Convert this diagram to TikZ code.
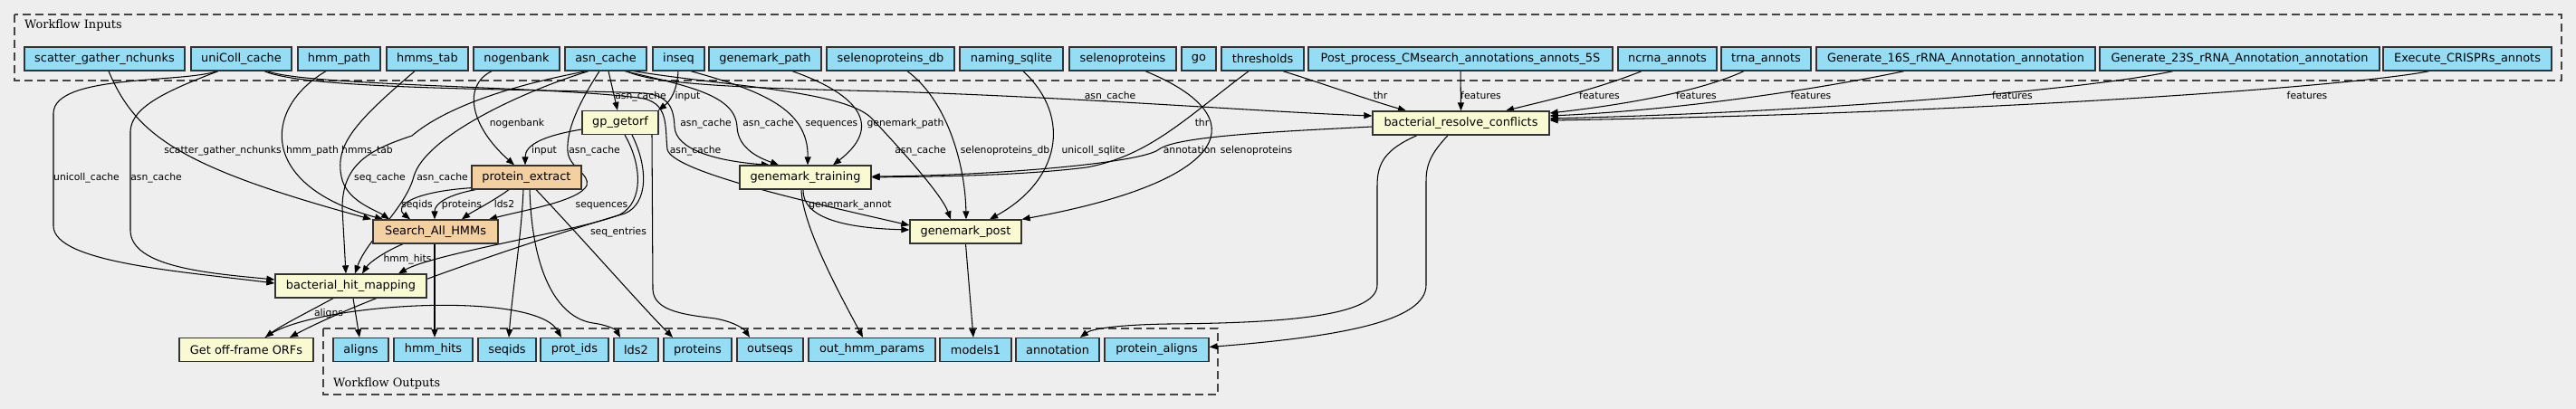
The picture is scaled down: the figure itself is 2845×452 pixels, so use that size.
\documentclass[tikz,border=0pt]{standalone}
\usepackage{fontspec}
\setmainfont{DejaVu Sans}
\newfontfamily\titlefont{DejaVu Serif}
\usetikzlibrary{arrows.meta}
\pgfdeclarelayer{bglayer}
\pgfdeclarelayer{edgelayer}
\pgfsetlayers{bglayer,edgelayer,main}
\definecolor{bgc}{HTML}{EEEEEE}
\definecolor{inblue}{HTML}{94DDF4}
\definecolor{stepyellow}{HTML}{FAFAD2}
\definecolor{steporange}{HTML}{F4CFA0}
\definecolor{nodeborder}{HTML}{333333}
\definecolor{clusborder}{HTML}{444444}
\tikzset{
 base/.style={draw=nodeborder, line width=1.3pt, minimum height=26pt, inner sep=0pt, font=\fontsize{12.9}{15}\selectfont},
 inp/.style={base, fill=inblue},
 stepy/.style={base, fill=stepyellow},
 stepo/.style={base, fill=steporange},
 edge/.style={draw=black, line width=1.05pt, -{Triangle[length=9pt,width=7pt]}},
 elab/.style={font=\fontsize{10.8}{12}\selectfont, inner sep=0pt, anchor=base},
 clus/.style={draw=clusborder, line width=1.3pt, dash pattern=on 9pt off 5pt},
 ctitle/.style={font=\titlefont\fontsize{12.9}{15}\selectfont, inner sep=0pt, anchor=base west},
}
\begin{document}
\begin{tikzpicture}[x=1pt,y=-1pt]
\useasboundingbox (0,0) rectangle (2845,452);
\begin{pgfonlayer}{bglayer}
\fill[bgc] (0,0) rectangle (2845,452);
\draw[clus] (16,16) rectangle (2829,89);
\draw[clus] (357,363) rectangle (1345,436);
\end{pgfonlayer}
\node[ctitle] (tin) at (27,32) {Workflow Inputs};
\node[ctitle] (tout) at (368,427) {Workflow Outputs};
% inputs
\node[inp, minimum width=177pt] (sgn) at (115.5,65) {scatter\_gather\_nchunks};
\node[inp, minimum width=111pt] (ucc) at (266.5,65) {uniColl\_cache};
\node[inp, minimum width=91pt] (hmmp) at (374.5,65) {hmm\_path};
\node[inp, minimum width=90pt] (hmmt) at (472,65) {hmms\_tab};
\node[inp, minimum width=95pt] (nogb) at (570.5,65) {nogenbank};
\node[inp, minimum width=90pt] (asnc) at (669,65) {asn\_cache};
\node[inp, minimum width=57pt] (inseq) at (749.5,65) {inseq};
\node[inp, minimum width=124pt] (gmp) at (845,65) {genemark\_path};
\node[inp, minimum width=141pt] (seldb) at (983.5,65) {selenoproteins\_db};
\node[inp, minimum width=114pt] (nsql) at (1117,65) {naming\_sqlite};
\node[inp, minimum width=118pt] (selp) at (1240,65) {selenoproteins};
\node[inp, minimum width=38pt] (go) at (1324,65) {go};
\node[inp, minimum width=91pt] (thr) at (1394.5,65) {thresholds};
\node[inp, minimum width=336pt] (pp5s) at (1613,65) {Post\_process\_CMsearch\_annotations\_annots\_5S};
\node[inp, minimum width=109pt] (ncrna) at (1841.5,65) {ncrna\_annots};
\node[inp, minimum width=99pt] (trna) at (1950.5,65) {trna\_annots};
\node[inp, minimum width=308pt] (g16) at (2160,65) {Generate\_16S\_rRNA\_Annotation\_annotation};
\node[inp, minimum width=309pt] (g23) at (2473.5,65) {Generate\_23S\_rRNA\_Annotation\_annotation};
\node[inp, minimum width=186pt] (crispr) at (2725,65) {Execute\_CRISPRs\_annots};
% steps
\node[stepy, minimum width=84pt] (gpo) at (685,135.5) {gp\_getorf};
\node[stepo, minimum width=121pt] (pe) at (581.5,196) {protein\_extract};
\node[stepy, minimum width=145pt] (gmt) at (889.5,196) {genemark\_training};
\node[stepy, minimum width=195pt] (brc) at (1613.5,136) {bacterial\_resolve\_conflicts};
\node[stepo, minimum width=138pt] (sah) at (481,256) {Search\_All\_HMMs};
\node[stepy, minimum width=123pt] (gmpo) at (1066.5,256) {genemark\_post};
\node[stepy, minimum width=167pt] (bhm) at (387.5,316) {bacterial\_hit\_mapping};
\node[stepy, minimum width=148pt] (orf) at (272,386.5) {Get off-frame ORFs};
% outputs
\node[inp, minimum width=61pt] (aligns) at (398.5,386.5) {aligns};
\node[inp, minimum width=87pt] (hmmh) at (478.5,386.5) {hmm\_hits};
\node[inp, minimum width=64pt] (seqids) at (560,386.5) {seqids};
\node[inp, minimum width=75pt] (pid) at (634.5,386.5) {prot\_ids};
\node[inp, minimum width=49pt] (lds) at (702.5,386.5) {lds2};
\node[inp, minimum width=75pt] (prot) at (770.5,386.5) {proteins};
\node[inp, minimum width=73pt] (outs) at (850.5,386.5) {outseqs};
\node[inp, minimum width=140pt] (ohp) at (963,386.5) {out\_hmm\_params};
\node[inp, minimum width=79pt] (mod) at (1077.5,386.5) {models1};
\node[inp, minimum width=92pt] (annot) at (1168,386.5) {annotation};
\node[inp, minimum width=115pt] (pa) at (1277.5,386.5) {protein\_aligns};
% edges
\begin{pgfonlayer}{edgelayer}
\draw[edge] ([xshift=4.5pt]sgn.south) .. controls (150,150) and (200,185) .. ([xshift=-71pt]sah.north);
\draw[edge] ([xshift=-26.5pt]ucc.south) .. controls (200,92) and (60,82) .. (59,125) -- (59,250) .. controls (60,290) and (200,300) .. ([yshift=3pt]bhm.west);
\draw[edge] ([xshift=-25.5pt]ucc.south) .. controls (185,100) and (145,118) .. (144,145) -- (144,255) .. controls (145,295) and (230,302) .. ([yshift=7pt]bhm.west);
\draw[edge] ([xshift=-14.5pt]hmmp.south) .. controls (290,120) and (285,205) .. ([xshift=-58pt]sah.north);
\draw[edge] ([xshift=-14pt]hmmt.south) .. controls (392,135) and (370,160) .. (377,195) .. controls (382,222) and (415,232) .. ([xshift=-51pt]sah.north);
\draw[edge] ([xshift=-21pt]asnc.south) .. controls (560,95) and (490,120) .. (455,150) .. controls (410,165) and (378,180) .. (378,230) -- ([xshift=-5.5pt]bhm.north);
\draw[edge] ([xshift=-19pt]asnc.south) .. controls (580,100) and (470,150) .. (457,195) .. controls (448,230) and (405,265) .. ([xshift=4.5pt]bhm.north);
\draw[edge] ([xshift=-7pt]asnc.south) .. controls (645,105) and (625,140) .. (627,167) .. controls (628,185) and (652,192) .. (648,205) .. controls (640,222) and (580,232) .. ([xshift=59pt]sah.north);
\draw[edge] ([xshift=3pt]asnc.south) -- ([xshift=-3pt]gpo.north);
\draw[edge] ([xshift=-0.5pt]inseq.south) .. controls (748,100) and (740,112) .. ([xshift=42pt]gpo.north);
\draw[edge] ([xshift=-27.5pt]nogb.south) .. controls (510,95) and (520,140) .. ([xshift=-13.5pt]pe.north);
\draw[edge] ([yshift=-7.5pt]gpo.west) .. controls (600,150) and (580,160) .. ([xshift=-1.5pt]pe.north);
\draw[edge] ([yshift=2pt]pe.south west) .. controls (455,212) and (435,228) .. ([xshift=-28pt]sah.north);
\draw[edge] ([xshift=5pt]pe.south west) .. controls (495,215) and (480,225) .. ([xshift=-1pt]sah.north);
\draw[edge] ([xshift=-19.5pt]pe.south) .. controls (545,222) and (520,235) .. ([xshift=29pt]sah.north);
\draw[edge] ([xshift=-36pt]sah.south) .. controls (425,278) and (408,290) .. ([xshift=12.5pt]bhm.north);
\draw[edge] ([xshift=5pt]gpo.south) .. controls (708,180) and (712,222) .. (685,237) .. controls (640,255) and (480,280) .. ([xshift=52.5pt]bhm.north);
\draw[edge] ([xshift=13pt]gpo.south) .. controls (716,185) and (716,225) .. (690,236) .. controls (640,250) and (420,320) .. ([xshift=48pt]orf.north);
\draw[edge] ([xshift=-19.5pt]bhm.south) .. controls (340,345) and (310,360) .. ([xshift=21pt]orf.north);
\draw[edge] ([xshift=21pt]orf.north) .. controls (340,335) and (590,320) .. ([xshift=-14.5pt]pid.north);
\draw[edge] ([xshift=2.5pt]bhm.south) -- ([xshift=-1.5pt]aligns.north);
\draw[edge] ([xshift=-1pt]sah.south) -- ([xshift=1.5pt]hmmh.north);
\draw[edge] ([xshift=-3.5pt]pe.south) .. controls (576,260) and (566,320) .. ([xshift=2pt]seqids.north);
\draw[edge] ([xshift=3.5pt]pe.south) .. controls (588,310) and (620,352) .. (655,357) .. controls (670,359) and (680,364) .. ([xshift=-17.5pt]lds.north);
\draw[edge] ([xshift=10.5pt]pe.south) .. controls (640,260) and (710,340) .. ([xshift=-27.5pt]prot.north);
\draw[edge] ([xshift=35pt]gpo.south) -- (721,320) .. controls (722,345) and (760,348) .. (790,352) .. controls (812,356) and (822,364) .. ([xshift=-22.5pt]outs.north);
\draw[edge] ([xshift=-4.5pt]gmt.south) .. controls (886,250) and (930,330) .. ([xshift=-10pt]ohp.north);
\draw[edge] (gmpo.south) -- ([xshift=-2.5pt]mod.north);
\draw[edge] ([xshift=-48.5pt]brc.south) .. controls (1530,165) and (1521,180) .. (1521,205) -- (1521,315) .. controls (1521,352) and (1400,357) .. (1290,358) .. controls (1230,359) and (1205,364) .. ([xshift=25pt]annot.north);
\draw[edge] ([xshift=-14.5pt]brc.south) .. controls (1582,168) and (1575,180) .. (1575,200) -- (1575,315) .. controls (1575,355) and (1480,372) .. ([yshift=3pt]pa.east);
\draw[edge] ([xshift=-2.5pt]gmt.south) .. controls (886,240) and (930,252) .. ([yshift=2pt]gmpo.west);
\draw[edge] ([xshift=28.5pt]ucc.south) .. controls (340,95) and (600,95) .. (705,108) .. controls (740,112) and (734,140) .. (737,165) .. controls (742,190) and (900,225) .. ([yshift=7pt]gmpo.west);
\draw[edge] ([xshift=25.5pt]ucc.south) .. controls (340,100) and (600,98) .. (712,103) .. controls (738,106) and (744,118) .. (745,140) .. controls (746,165) and (790,178) .. ([xshift=-39.5pt]gmt.north);
\draw[edge] ([xshift=21pt]asnc.south) .. controls (760,95) and (812,105) .. (814,140) .. controls (815,165) and (840,175) .. ([xshift=-29.5pt]gmt.north);
\draw[edge] ([xshift=13.5pt]inseq.south) .. controls (840,100) and (893,120) .. ([xshift=2.5pt]gmt.north);
\draw[edge] ([xshift=30pt]gmp.south) .. controls (950,105) and (975,140) .. ([xshift=30.5pt]gmt.north);
\draw[edge] ([xshift=31pt]asnc.south) .. controls (800,95) and (930,100) .. (962,130) .. controls (995,165) and (1040,215) .. ([xshift=-16.5pt]gmpo.north);
\draw[edge] ([xshift=18.5pt]seldb.south) .. controls (1045,110) and (1066,180) .. ([xshift=0.5pt]gmpo.north);
\draw[edge] ([xshift=13pt]nsql.south) .. controls (1185,130) and (1170,200) .. ([xshift=26.5pt]gmpo.north);
\draw[edge] ([xshift=25pt]selp.south) .. controls (1390,130) and (1360,200) .. (gmpo.north east);
\draw[edge] ([xshift=-15.5pt]thr.south) .. controls (1310,130) and (1270,172) .. (1200,185) .. controls (1120,195) and (1020,195) .. (gmt.east);
\draw[edge] ([yshift=-4pt]brc.west) .. controls (1420,145) and (1300,150) .. (1280,165) .. controls (1262,180) and (1100,194) .. ([yshift=1pt]gmt.east);
\draw[edge] ([xshift=22.5pt]thr.south) .. controls (1460,92) and (1510,110) .. ([xshift=-60.5pt]brc.north);
\draw[edge] ([xshift=23pt]asnc.south) .. controls (720,92) and (800,97) .. (980,101) .. controls (1200,108) and (1400,124) .. ([yshift=8pt]brc.west);
\draw[edge] (pp5s.south) -- (brc.north);
\draw[edge] ([xshift=-28.5pt]ncrna.south) .. controls (1760,100) and (1700,113) .. ([xshift=49.5pt]brc.north);
\draw[edge] ([xshift=-24.5pt]trna.south) .. controls (1880,100) and (1800,115) .. ([yshift=11pt]brc.east);
\draw[edge] ([xshift=-57pt]g16.south) .. controls (2000,100) and (1850,122) .. ([yshift=8pt]brc.east);
\draw[edge] ([xshift=-73.5pt]g23.south) .. controls (2300,100) and (2000,124) .. ([yshift=5pt]brc.east);
\draw[edge] ([xshift=-42pt]crispr.south) .. controls (2600,95) and (2200,125) .. ([yshift=3pt]brc.east);
\end{pgfonlayer}
% edge labels
\node[elab] (l1) at (246,169) {scatter\_gather\_nchunks};
\node[elab] (l2) at (95.5,199) {unicoll\_cache};
\node[elab] (l3) at (172.5,199) {asn\_cache};
\node[elab] (l4) at (345,169) {hmm\_path};
\node[elab] (l5) at (405.5,169) {hmms\_tab};
\node[elab] (l6) at (419.5,199) {seq\_cache};
\node[elab] (l7) at (488.5,199) {asn\_cache};
\node[elab] (l8) at (656.5,169) {asn\_cache};
\node[elab] (l9) at (707.5,109) {asn\_cache};
\node[elab] (l10) at (759.5,109) {input};
\node[elab] (l11) at (571,139) {nogenbank};
\node[elab] (l12) at (601,169) {input};
\node[elab] (l13) at (460.5,229) {seqids};
\node[elab] (l14) at (510,229) {proteins};
\node[elab] (l15) at (557,229) {lds2};
\node[elab] (l16) at (450,289) {hmm\_hits};
\node[elab] (l17) at (664.5,229) {sequences};
\node[elab] (l18) at (683,259) {seq\_entries};
\node[elab] (l19) at (363,349) {aligns};
\node[elab] (l20) at (939,229) {genemark\_annot};
\node[elab] (l21) at (768,169) {asn\_cache};
\node[elab] (l22) at (779.5,139) {asn\_cache};
\node[elab] (l23) at (848.5,139) {asn\_cache};
\node[elab] (l24) at (918.5,139) {sequences};
\node[elab] (l25) at (1000,139) {genemark\_path};
\node[elab] (l26) at (1016.5,169) {asn\_cache};
\node[elab] (l27) at (1110,169) {selenoproteins\_db};
\node[elab] (l28) at (1207.5,169) {unicoll\_sqlite};
\node[elab] (l29) at (1314,169) {annotation};
\node[elab] (l30) at (1387.5,169) {selenoproteins};
\node[elab] (l31) at (1327.5,139) {thr};
\node[elab] (l32) at (1524.5,109) {thr};
\node[elab] (l33) at (1226,109) {asn\_cache};
\node[elab] (l34) at (1635.5,109) {features};
\node[elab] (l35) at (1766.5,109) {features};
\node[elab] (l36) at (1873.5,109) {features};
\node[elab] (l37) at (2000,109) {features};
\node[elab] (l38) at (2222.5,109) {features};
\node[elab] (l39) at (2548,109) {features};
\end{tikzpicture}
\end{document}
